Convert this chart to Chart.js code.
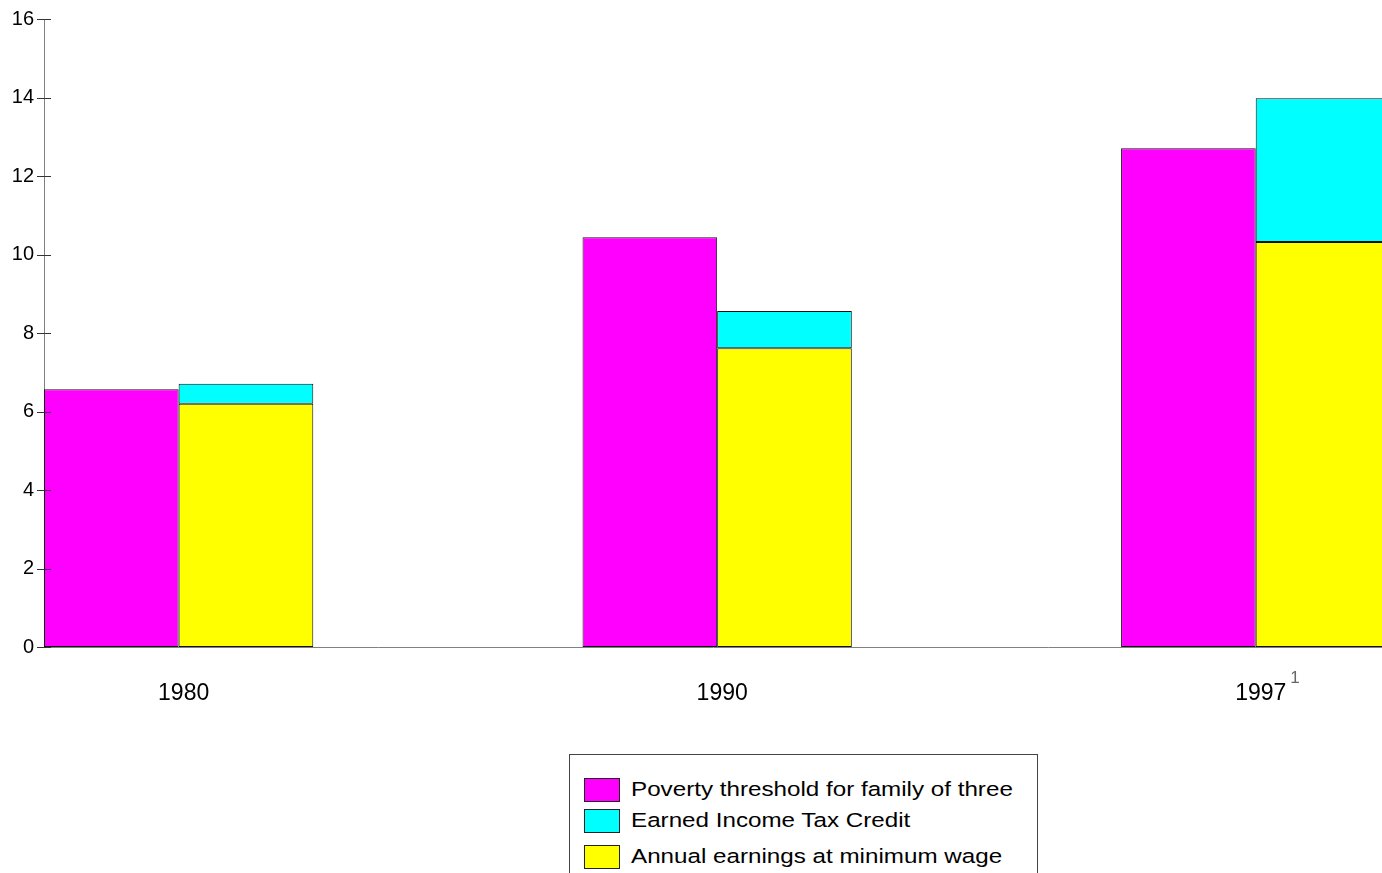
<!DOCTYPE html>
<html>
<head>
<meta charset="utf-8">
<script src="https://cdn.jsdelivr.net/npm/chart.js@4"></script>
<style>
  html, body { margin: 0; padding: 0; background: #fff; overflow: hidden; }
  #wrap { position: relative; width: 1382px; height: 873px; }
  #chart { position: absolute; left: 0; top: 0; }
  #legend {
    position: absolute; left: 569px; top: 754px; width: 469px; height: 150px;
    border: 1px solid #444; background: #fff; box-sizing: border-box;
    font-family: "Liberation Sans", Arial, sans-serif; font-size: 20.5px; color: #000;
  }
  .item { position: absolute; left: 14px; height: 24px; white-space: nowrap; }
  .swatch { position: absolute; left: 0; top: 0; width: 34px; height: 22px; border: 1px solid #222; }
  .label { position: absolute; left: 47px; top: -1px; line-height: 24px;
           transform: scaleX(1.18); transform-origin: 0 50%; }
</style>
</head>
<body>
<div id="wrap">
  <canvas id="chart" width="1382" height="873"></canvas>
  <div id="legend"></div>
</div>
<script>
// Groups along the x axis and their footnote markers
const categories = ['1980', '1990', '1997'];
const footnotes = ['', '', '1'];

// Values in thousands of dollars
const povertyThreshold = [6.57, 10.44, 12.71];
const earnedIncomeCredit = [0.51, 0.95, 3.66];
const minWageEarnings = [6.20, 7.61, 10.32];

// Y axis tick values
const yTickValues = [0, 2, 4, 6, 8, 10, 12, 14, 16];

const toPoints = arr => arr.map((v, i) => ({ x: i, y: v }));

const datasets = [
  { label: 'Poverty threshold for family of three', data: toPoints(povertyThreshold),
    backgroundColor: '#ff00ff', stack: 'threshold', legendOrder: 0 },
  { label: 'Annual earnings at minimum wage', data: toPoints(minWageEarnings),
    backgroundColor: '#ffff00', stack: 'income', legendOrder: 2 },
  { label: 'Earned Income Tax Credit', data: toPoints(earnedIncomeCredit),
    backgroundColor: '#00ffff', stack: 'income', legendOrder: 1 }
];
datasets.forEach(d => {
  d.borderColor = '#111';
  d.borderWidth = 1;
  d.borderSkipped = false;
  d.barPercentage = 1;
  d.categoryPercentage = 0.5;
});

const FONT = '"Liberation Sans", Arial, sans-serif';

// Small tick marks that cross the y axis line, plus footnote markers on x labels
const axisDecor = {
  id: 'axisDecor',
  afterDraw(chart) {
    const ctx = chart.ctx;
    const y = chart.scales.y;
    const x = chart.scales.x;
    ctx.save();
    ctx.strokeStyle = '#333';
    ctx.lineWidth = 1;
    y.ticks.forEach(t => {
      const py = Math.round(y.getPixelForValue(t.value)) + 0.5;
      ctx.beginPath();
      ctx.moveTo(y.right - 7, py);
      ctx.lineTo(y.right + 7, py);
      ctx.stroke();
    });
    const tf = x.options.ticks.font;
    const labelY = x.top + x.options.ticks.padding;
    footnotes.forEach((note, i) => {
      if (!note) return;
      ctx.font = tf.size + 'px ' + FONT;
      const cx = x.getPixelForValue(i) + x.options.ticks.labelOffset;
      const w = ctx.measureText(categories[i]).width;
      ctx.font = '17px ' + FONT;
      ctx.fillStyle = '#666';
      ctx.textAlign = 'left';
      ctx.textBaseline = 'top';
      ctx.fillText(note, cx + w / 2 + 4, labelY - 10);
    });
    ctx.restore();
  }
};

const chart = new Chart(document.getElementById('chart'), {
  type: 'bar',
  data: { datasets },
  options: {
    responsive: false,
    animation: false,
    layout: { padding: { top: 19, left: 0, right: 0, bottom: 0 } },
    plugins: { legend: { display: false }, tooltip: { enabled: false } },
    scales: {
      x: {
        type: 'linear',
        min: -0.25,
        max: 2.2345,
        offset: false,
        grid: { display: false, drawTicks: false },
        border: { display: true, color: '#808080', width: 1 },
        afterBuildTicks: s => { s.ticks = categories.map((c, i) => ({ value: i })); },
        afterFit: s => { s.height = 226; s.paddingLeft = 0; s.paddingRight = 0; },
        ticks: {
          callback: v => categories[v] ?? '',
          font: { family: FONT, size: 23 },
          color: '#000',
          padding: 33,
          labelOffset: 5,
          maxRotation: 0,
          autoSkip: false
        }
      },
      y: {
        min: 0,
        max: 16,
        stacked: true,
        grid: { display: false, drawTicks: false },
        border: { display: true, color: '#808080', width: 1 },
        afterBuildTicks: s => { s.ticks = yTickValues.map(v => ({ value: v })); },
        afterFit: s => { s.width = 44; s.paddingTop = 0; s.paddingBottom = 0; },
        ticks: {
          font: { family: FONT, size: 20 },
          color: '#000',
          padding: 10
        }
      }
    }
  },
  plugins: [axisDecor]
});

// Legend box built from the datasets
const legendEl = document.getElementById('legend');
const rowTops = [23, 54, 90];
datasets.slice().sort((a, b) => a.legendOrder - b.legendOrder).forEach((d, i) => {
  const item = document.createElement('div');
  item.className = 'item';
  item.style.top = rowTops[i] + 'px';
  const sw = document.createElement('div');
  sw.className = 'swatch';
  sw.style.background = d.backgroundColor;
  const lb = document.createElement('div');
  lb.className = 'label';
  lb.textContent = d.label;
  item.appendChild(sw);
  item.appendChild(lb);
  legendEl.appendChild(item);
});
</script>
</body>
</html>
